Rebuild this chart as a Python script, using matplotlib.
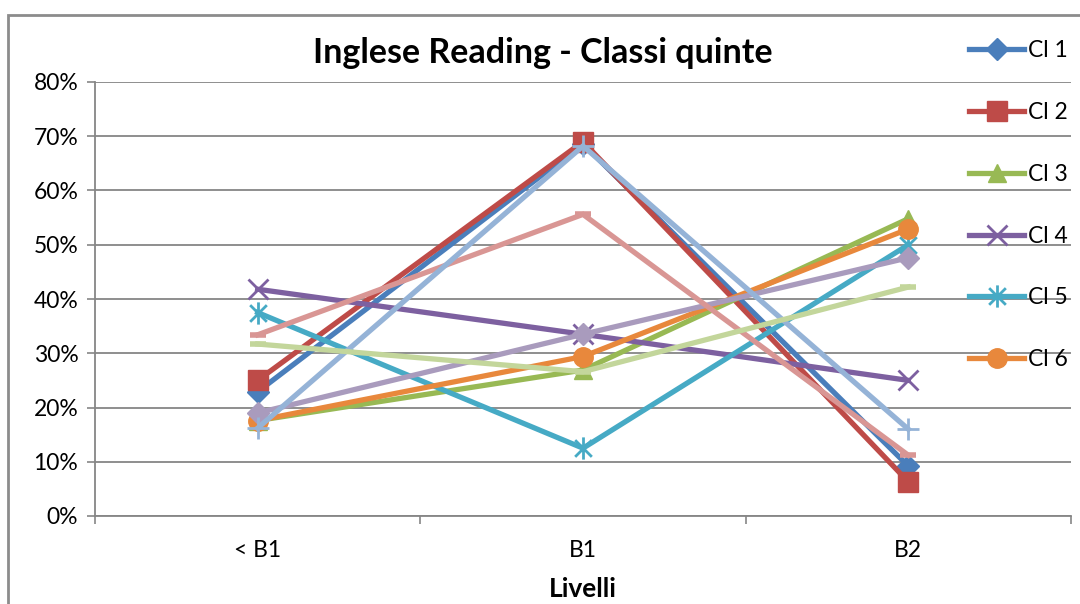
import matplotlib.pyplot as plt
import numpy as np
from matplotlib.path import Path
from matplotlib.patches import Rectangle

plt.rcParams['font.family'] = ['Lato', 'DejaVu Sans']

livelli = ['< B1', 'B1', 'B2']
series_names = ['Cl 1', 'Cl 2', 'Cl 3', 'Cl 4', 'Cl 5', 'Cl 6', 'Cl 7', 'Cl 8', 'Cl 9', 'Cl 10']

cl1 = [22.9, 68.6, 9.2]
cl2 = [25.0, 69.0, 6.3]
cl3 = [17.6, 26.9, 54.8]
cl4 = [41.8, 33.5, 25.0]
cl5 = [37.5, 12.5, 50.0]
cl6 = [17.6, 29.4, 52.9]
cl7 = [19.0, 33.5, 47.6]
cl8 = [33.4, 55.6, 11.2]
cl9 = [16.2, 68.2, 16.0]
cl10 = [31.7, 26.6, 42.2]

colors = ['#4A7EBB', '#BE4B48', '#98B954', '#7D60A0', '#46AAC5', '#E8883C',
          '#A99BBD', '#D99694', '#95B3D7', '#C3D69B']

# Excel style asterisk: X plus vertical bar
asterisk = Path([(0, -1), (0, 1), (-0.75, -0.75), (0.75, 0.75), (-0.75, 0.75), (0.75, -0.75)],
                [Path.MOVETO, Path.LINETO, Path.MOVETO, Path.LINETO, Path.MOVETO, Path.LINETO])

markers = ['D', 's', '^', 'x', asterisk, 'o', 'D', '_', '+', '_']
msizes = [11, 14, 13, 14, 16, 14, 11, 12, 16, 12]
mews = [1, 1, 1, 2, 2, 1, 1, 4, 2, 4]

fig = plt.figure(figsize=(10.8, 6.04), dpi=100)
ax = fig.add_axes([95 / 1080, 1 - 516 / 604, (1071 - 95) / 1080, (516 - 82) / 604])

x = np.arange(len(livelli))
data = [cl1, cl2, cl3, cl4, cl5, cl6, cl7, cl8, cl9, cl10]
handles = []
for vals, name, c, m, ms, mew in zip(data, series_names, colors, markers, msizes, mews):
    h, = ax.plot(x, vals, color=c, lw=3.8, marker=m, markersize=ms,
                 markerfacecolor=c, markeredgecolor=c, markeredgewidth=mew,
                 solid_joinstyle='miter', label=name, clip_on=False)
    handles.append(h)

ax.set_xlim(-0.5, 2.5)
ax.set_ylim(0, 80)
ax.set_yticks(np.arange(0, 81, 10))
ax.set_yticklabels([f'{v}%' for v in range(0, 81, 10)], fontsize=16.5)
ax.set_xticks(x)
ax.set_xticklabels(livelli, fontsize=16.5)
ax.set_xticks([-0.5, 0.5, 1.5, 2.5], minor=True)
ax.tick_params(axis='x', which='major', length=0, pad=17)
ax.tick_params(axis='x', which='minor', length=6, color='#868686', width=1.2)
ax.tick_params(axis='y', length=6, color='#868686', width=1.2, pad=6)
ax.yaxis.grid(True, color='#868686', lw=1.3)
ax.set_axisbelow(True)
for s in ['top', 'right']:
    ax.spines[s].set_visible(False)
for s in ['left', 'bottom']:
    ax.spines[s].set_color('#868686')
    ax.spines[s].set_linewidth(1.3)

ax.set_xlabel('Livelli', fontsize=19, fontweight='bold', labelpad=12)
fig.text(543 / 1080, 1 - 53 / 604, 'Inglese Reading - Classi quinte', fontsize=24.5,
         fontweight='bold', ha='center', va='center')

fig.legend(handles=handles[:6], labels=series_names[:6], loc='upper left',
           bbox_to_anchor=(960 / 1080, 1 - 31 / 604), frameon=False, fontsize=16.5,
           handlelength=2.4, handletextpad=0.15, labelspacing=1.78, borderaxespad=0)

fig.patches.append(Rectangle((8 / 1080, -0.1), 1.2, (604 - 15) / 604 + 0.1,
                             transform=fig.transFigure, fill=False,
                             edgecolor='#8C8C8C', lw=2))

fig.savefig('out.png', dpi=100)
